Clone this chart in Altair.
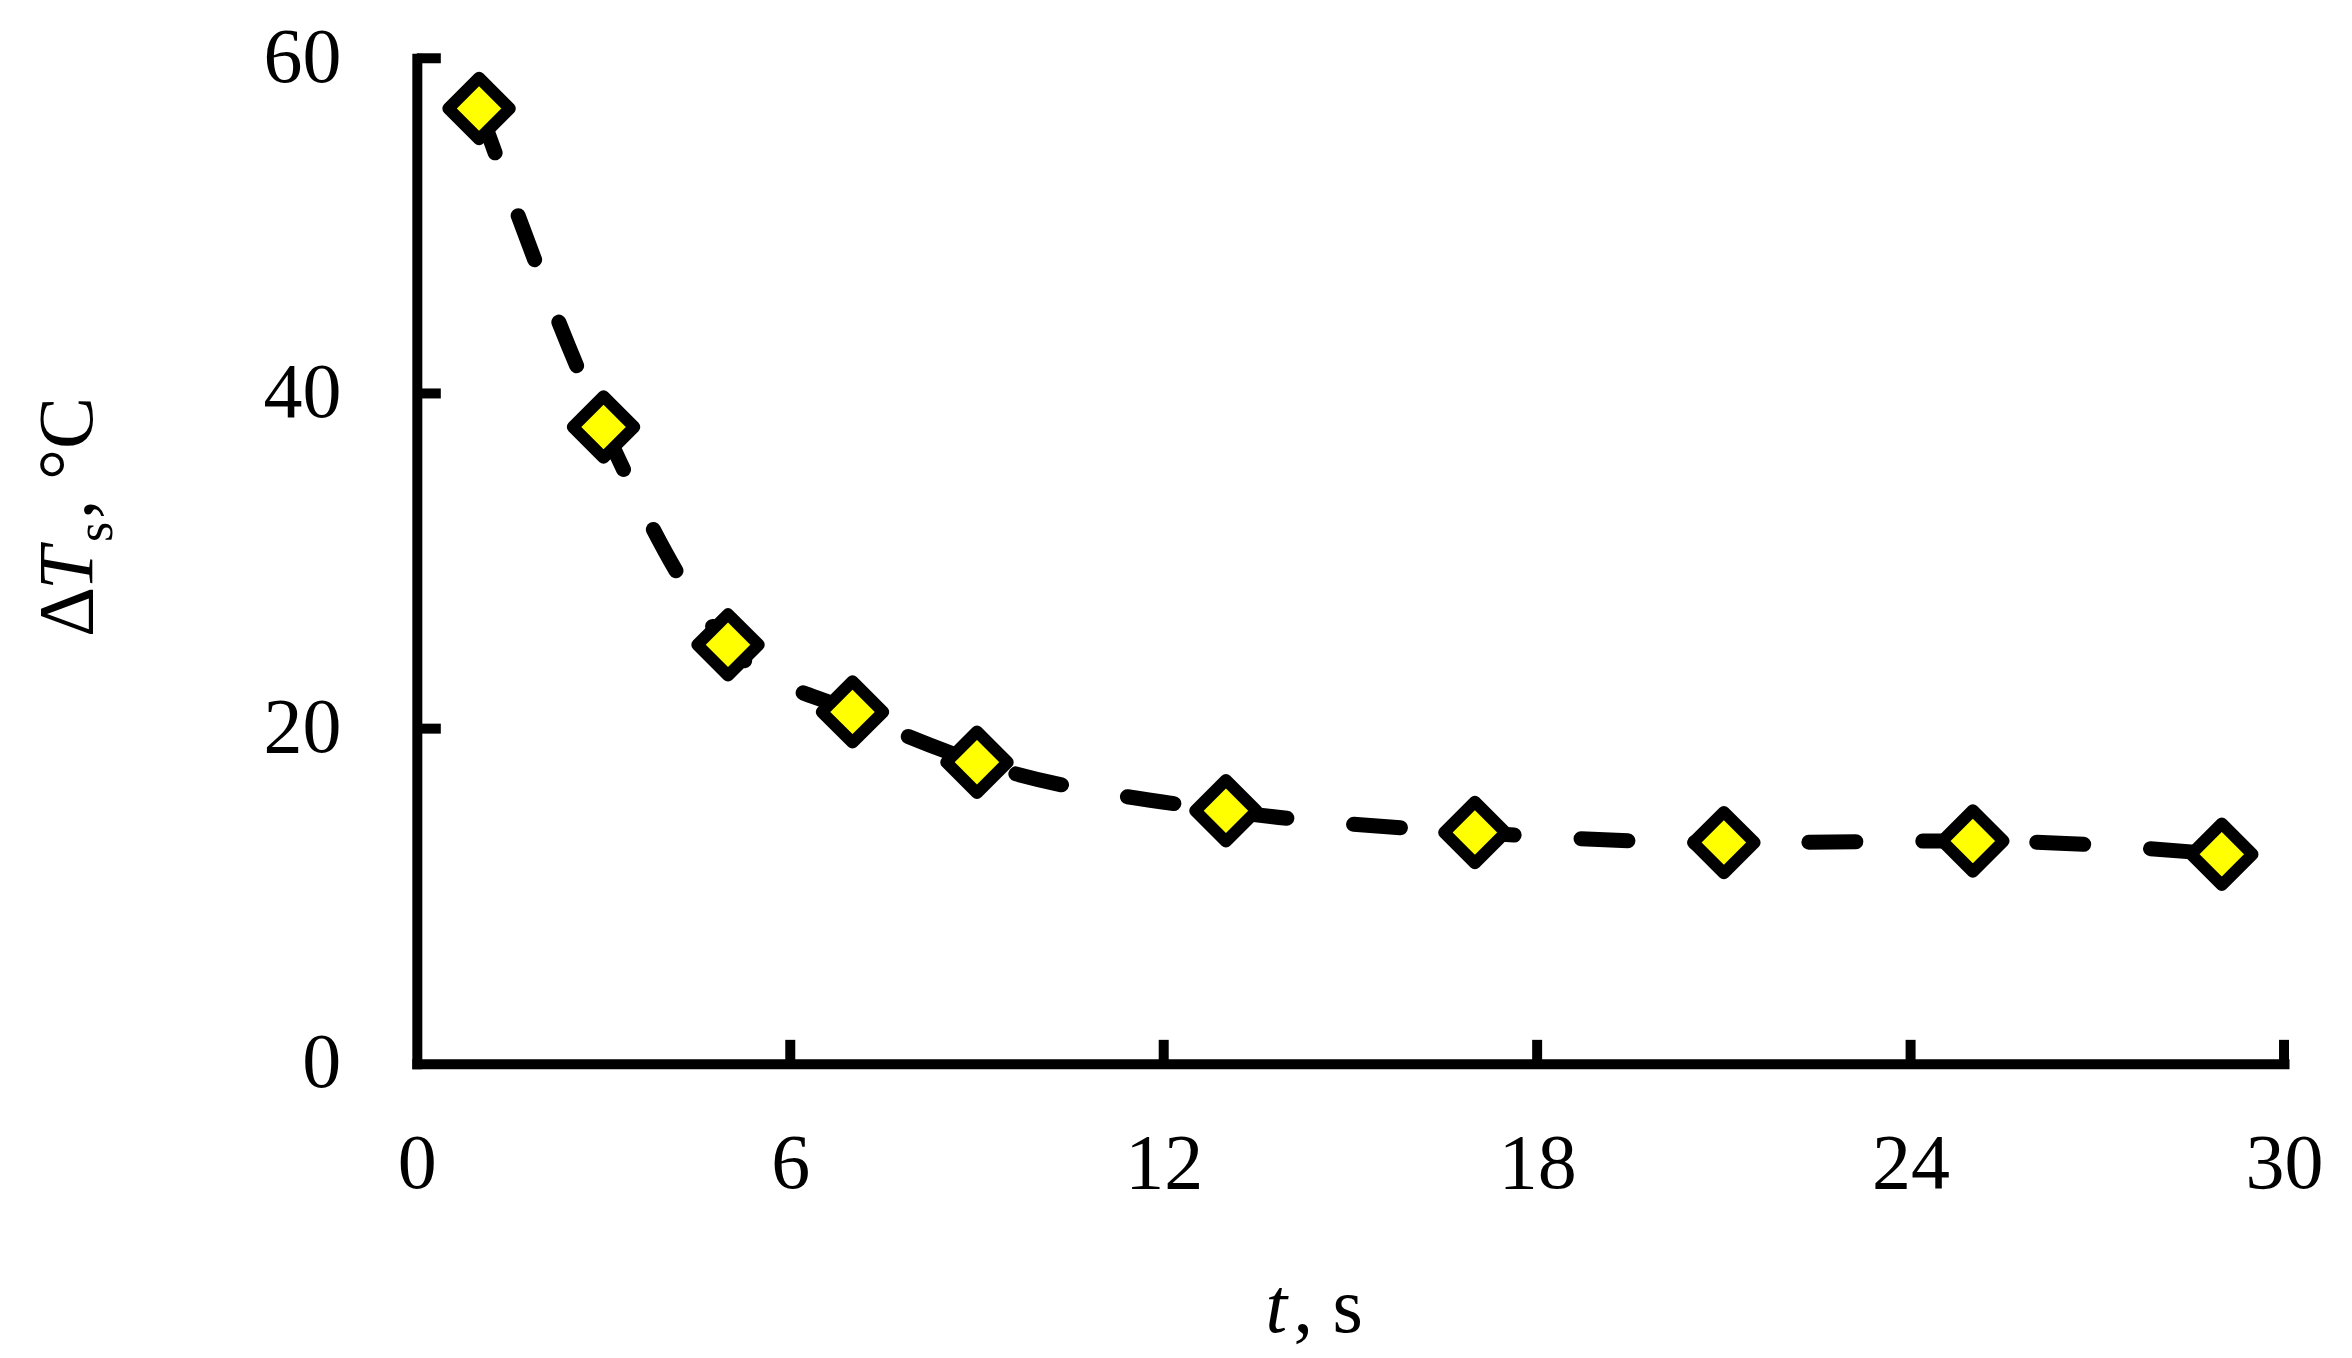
import altair as alt
import pandas as pd

# data
t_values = [1, 3, 5, 7, 9, 13, 17, 21, 25, 29]
dT_values = [57.0, 38.0, 25.0, 21.0, 18.0, 15.1, 13.8, 13.2, 13.3, 12.5]
x_ticks = [0, 6, 12, 18, 24, 30]
y_ticks = [0, 20, 40, 60]

W, H = 1868, 1006
FONT = "Liberation Serif"
FS = 78

df = pd.DataFrame({"t": t_values, "dT": dT_values})
xt = pd.DataFrame({"v": [v for v in x_ticks if v > 0]})
yt = pd.DataFrame({"v": [v for v in y_ticks if v > 0]})
one = pd.DataFrame({"a": [0]})

xscale = alt.Scale(domain=[0, 30], nice=False, zero=False)
yscale = alt.Scale(domain=[0, 60], nice=False, zero=False)

xaxis = alt.Axis(values=x_ticks, format="d", title=None, grid=False, ticks=False, tickSize=0,
                 labelPadding=62, labelFont=FONT, labelFontSize=FS, labelColor="black",
                 domainColor="black", domainWidth=10, domainCap="square", labelFlush=False)
yaxis = alt.Axis(values=y_ticks, format="d", title=None, grid=False, ticks=False, tickSize=0,
                 labelPadding=76, labelFont=FONT, labelFontSize=FS, labelColor="black",
                 domainColor="black", domainWidth=10, domainCap="square", labelFlush=False)

base = alt.Chart(df)

line = base.mark_line(interpolate="monotone", color="black", strokeWidth=15,
                      strokeDash=[47, 67], strokeCap="round").encode(
    x=alt.X("t:Q", scale=xscale, axis=xaxis),
    y=alt.Y("dT:Q", scale=yscale, axis=yaxis),
)

points = base.mark_point(shape="diamond", filled=True, fill="#FFFF00", stroke="black",
                         strokeWidth=12, size=3780, opacity=1, strokeJoin="round").encode(
    x=alt.X("t:Q", scale=xscale),
    y=alt.Y("dT:Q", scale=yscale),
)

ytick_rules = alt.Chart(yt).mark_rule(color="black", strokeWidth=10, strokeCap="butt").encode(
    y=alt.Y("v:Q", scale=yscale),
    x=alt.value(0), x2=alt.value(24),
)
xtick_rules = alt.Chart(xt).mark_rule(color="black", strokeWidth=10, strokeCap="butt").encode(
    x=alt.X("v:Q", scale=xscale),
    y=alt.value(H), y2=alt.value(H - 24),
)

def label(text, x, y, size=FS, style="normal", angle=0):
    return alt.Chart(one).mark_text(font=FONT, fontSize=size, fontStyle=style, color="black",
                                    align="left", baseline="alphabetic", angle=angle).encode(
        x=alt.value(x), y=alt.value(y), text=alt.value(text))

titles = [
    label("t", 849, 1274, style="italic"),
    label(", s", 877, 1274),
    label("Δ", -325, 579, angle=270),
    label("T", -325, 532, style="italic", angle=270),
    label("s", -305, 484, size=52, angle=270),
    label(", °C", -325, 461, angle=270),
]

chart = alt.layer(line, points, ytick_rules, xtick_rules, *titles).properties(
    width=W, height=H,
    background="white",
    autosize=alt.AutoSizeParams(type="none"),
    padding={"left": 409, "top": 50, "right": 60, "bottom": 290},
).configure_view(strokeWidth=0, stroke="transparent")

chart.save("out.html", embed_options={"renderer": "svg", "actions": False})
